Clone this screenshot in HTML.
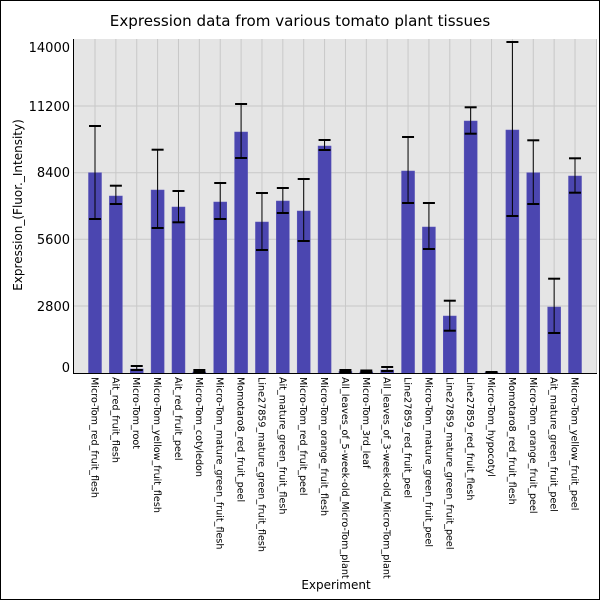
<!DOCTYPE html>
<html><head><meta charset="utf-8"><style>html,body{margin:0;padding:0;background:#fff}svg{display:block}</style></head><body>
<svg width="600" height="600" xmlns="http://www.w3.org/2000/svg" font-family="DejaVu Sans, Liberation Sans, sans-serif">
<rect x="0.5" y="0.5" width="599" height="599" fill="#fff" stroke="#000"/>
<text x="300" y="26" font-size="15.1" text-anchor="middle">Expression data from various tomato plant tissues</text>
<rect x="74" y="39" width="523" height="334" fill="#e5e5e5"/>
<g stroke="#c8c8c8" stroke-width="1">
<line x1="74" x2="597" y1="106" y2="106"/><line x1="74" x2="597" y1="172.7" y2="172.7"/>
<line x1="74" x2="597" y1="239.3" y2="239.3"/><line x1="74" x2="597" y1="306" y2="306"/>
<line x1="596.5" x2="596.5" y1="39" y2="373"/>
</g>
<g id="vg" stroke="#c8c8c8"></g>
<g id="bars"></g>
<line x1="73.5" y1="39" x2="73.5" y2="373.5" stroke="#000"/>
<line x1="73" y1="373.5" x2="597" y2="373.5" stroke="#000"/>
<g font-size="13" text-anchor="end">
<text x="70" y="52">14000</text><text x="70" y="111">11200</text><text x="70" y="177">8400</text>
<text x="70" y="244">5600</text><text x="70" y="311">2800</text><text x="70" y="372">0</text>
</g>
<text transform="translate(22,205) rotate(-90)" font-size="12" text-anchor="middle">Expression_(Fluor._Intensity)</text>
<text x="336" y="589" font-size="12" text-anchor="middle">Experiment</text>
<g id="labels" font-size="9.6"></g>
<script>
var d=[["Micro-Tom_red_fruit_flesh",172.7,126,219],["Ait_red_fruit_flesh",196,185.7,204],["Micro-Tom_root",369,366,370],["Micro-Tom_yellow_fruit_flesh",190,149.7,228],["Ait_red_fruit_peel",207,191,222.3],["Micro-Tom_cotyledon",372,370,372],["Micro-Tom_mature_green_fruit_flesh",202,183,219],["Momotaro8_red_fruit_peel",132,104,158],["Line27859_mature_green_fruit_flesh",222,193,250],["Ait_mature_green_fruit_flesh",201,188,213],["Micro-Tom_red_fruit_peel",211,179,241],["Micro-Tom_orange_fruit_flesh",146,140,150],["All_leaves_of_5-week-old_Micro-Tom_plant",371.5,370,372],["Micro-Tom_3rd_leaf",372,370.5,372],["All_leaves_of_3-week-old_Micro-Tom_plant",370,367,371],["Line27859_red_fruit_peel",171,137,203],["Micro-Tom_mature_green_fruit_peel",227,203,249],["Line27859_mature_green_fruit_peel",316,300.7,330.7],["Line27859_red_fruit_flesh",121,107.3,133.7],["Micro-Tom_hypocotyl",372.5,372,373],["Momotaro8_red_fruit_flesh",130,42,216],["Micro-Tom_orange_fruit_peel",172.7,140.3,204],["Ait_mature_green_fruit_peel",307,278.7,333],["Micro-Tom_yellow_fruit_peel",176,158.3,192.7]];
var ns="http://www.w3.org/2000/svg",vg=document.getElementById("vg"),b=document.getElementById("bars"),lb=document.getElementById("labels");
function el(p,t,a){var e=document.createElementNS(ns,t);for(var k in a)e.setAttribute(k,a[k]);p.appendChild(e);return e;}
d.forEach(function(r,i){var cx=95+i*20.87;
el(vg,"line",{x1:cx,x2:cx,y1:39,y2:373});
el(b,"rect",{x:cx-6.5,y:r[1],width:13,height:373-r[1],fill:"#4b46b0",stroke:"#5a55b8","stroke-width":0.5});
el(b,"line",{x1:cx,x2:cx,y1:r[2],y2:r[3],stroke:"#000","stroke-width":1});
el(b,"line",{x1:cx-6,x2:cx+6,y1:r[2],y2:r[2],stroke:"#000","stroke-width":2});
el(b,"line",{x1:cx-6,x2:cx+6,y1:r[3],y2:r[3],stroke:"#000","stroke-width":2});
var t=el(lb,"text",{transform:"translate("+(cx-3.5)+",377) rotate(90)"});t.textContent=r[0];});
</script>
</svg>
</body></html>
